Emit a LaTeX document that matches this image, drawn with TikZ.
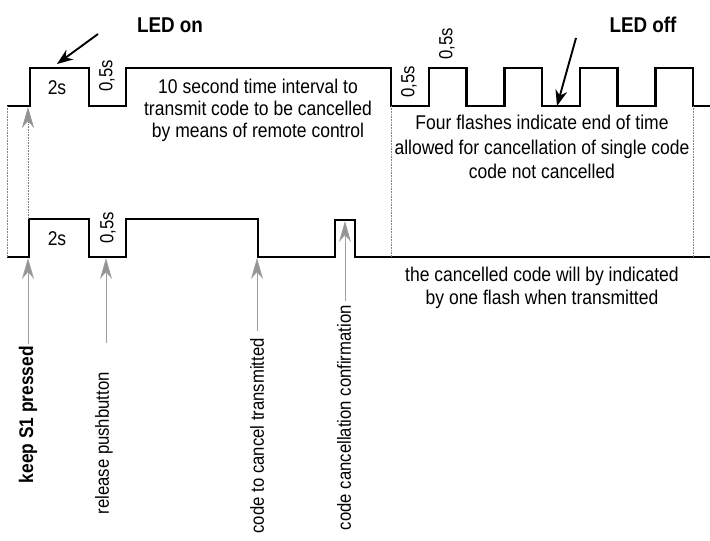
\documentclass[tikz,border=0pt]{standalone}
\usepackage{fontspec}
\setmainfont{Liberation Sans}[FakeStretch=0.88]
\usetikzlibrary{arrows.meta,positioning}

\tikzset{
  wave/.style = {line width=2.1pt, line join=miter},
  guide/.style = {densely dotted, black!50, line width=0.6pt},
  marker/.style = {draw=black!38, line width=0.8pt, -{Stealth[length=21pt, width=12pt, fill=black!42]}},
  pointer/.style = {line width=1.9pt, -{Stealth[length=16pt, width=12pt]}},
  lbl/.style = {font=\fontsize{19.9}{22}\selectfont, inner sep=0pt, align=center},
  vlbl/.style = {font=\fontsize{19}{20}\selectfont, rotate=90, inner sep=2pt},
  head/.style = {font=\fontsize{21.4}{22}\selectfont\bfseries, inner sep=0pt}
}

\begin{document}
\begin{tikzpicture}[x=1pt, y=-1pt]
\useasboundingbox (0,0) rectangle (710,541);

% LED signal
\draw[wave] (7,106) -- (30,106) -- (30,68) -- (89,68) -- (89,106) -- (126,106) -- (126,68) -- (391,68) -- (391,106)
  foreach \x in {429,504.5,580,655.5} { -- (\x,106) -- (\x,68) -- (\x+37.5,68) -- (\x+37.5,106) } -- (710,106);
% transmitter signal
\draw[wave] (7,257) -- (29,257) -- (29,219) -- (89,219) -- (89,257) -- (126,257) -- (126,219) -- (258,219) -- (258,257)
  -- (335,257) -- (335,220) -- (355,220) -- (355,257) -- (710,257);

% guides
\draw[guide] (7,106) -- (7,257);
\draw[guide] (391,106) -- (391,257);
\draw[guide] (693,106) -- (693,257);

% durations
\node[lbl] (on2) at (57,88) {2s};
\node[vlbl] (off1) at (107,76) {0,5s};
\node[vlbl] (off2) at (409,82) {0,5s};
\node[vlbl] (flash) at (447,44) {0,5s};
\node[lbl] (tx2) at (57,239) {2s};
\node[vlbl] (tx05) at (108,228) {0,5s};

% notes
\node[lbl] (interval) at (258,110) {10 second time interval to\\transmit code to be cancelled\\by means of remote control};
\node[lbl, font=\fontsize{19.9}{24.5}\selectfont] (flashes) at (542,147) {Four flashes indicate end of time\\allowed for cancellation of single code\\code not cancelled};
\node[lbl, font=\fontsize{19.9}{23}\selectfont] (oneflash) at (542,288) {the cancelled code will by indicated\\by one flash when transmitted};

% LED pointers
\node[head] (ledon) at (170,25) {LED on};
\node[head] (ledoff) at (643,25) {LED off};
\coordinate (ledon-tail) at (98,34);
\coordinate (ledon-tip) at (57,64);
\coordinate (ledoff-tail) at (576,38);
\coordinate (ledoff-tip) at (557,106);
\draw[pointer] (ledon-tail) -- (ledon-tip);
\draw[pointer] (ledoff-tail) -- (ledoff-tip);

% events
\node[vlbl, font=\fontsize{19.7}{20}\selectfont\bfseries, anchor=east] (keep) at (28,344) {keep S1 pressed};
\node[vlbl, anchor=east] (release) at (104,370) {release pushbutton};
\node[vlbl, anchor=east] (cancel) at (257,336) {code to cancel transmitted};
\node[vlbl, anchor=east] (confirm) at (344,303) {code cancellation confirmation};

\coordinate (keep-up) at (28,219);
\coordinate (keep-tip) at (28,107);
\coordinate (keep-tx) at (28,258);
\coordinate (release-end) at (106,343);
\coordinate (release-tx) at (106,258);
\coordinate (cancel-end) at (257,331);
\coordinate (cancel-tx) at (257,258);
\coordinate (confirm-end) at (345,301);
\coordinate (confirm-tx) at (345,221);

\draw[guide, -{Stealth[length=21pt, width=12pt, fill=black!42, color=black!42]}] (keep-up) -- (keep-tip);
\draw[marker] (keep.east) -- (keep-tx);
\draw[marker] (release-end) -- (release-tx);
\draw[marker] (cancel-end) -- (cancel-tx);
\draw[marker] (confirm-end) -- (confirm-tx);
\end{tikzpicture}
\end{document}
